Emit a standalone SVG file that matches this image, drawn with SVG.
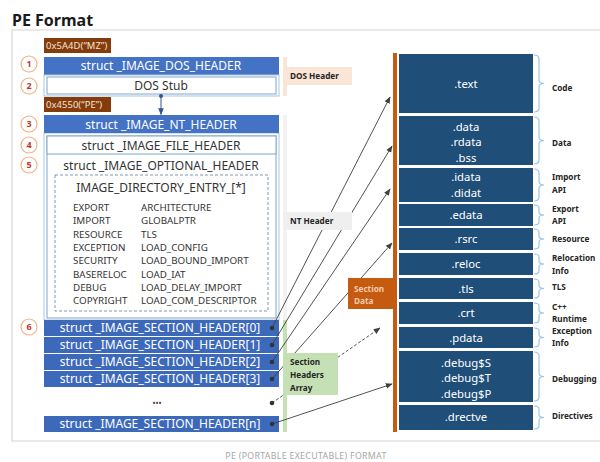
<svg xmlns="http://www.w3.org/2000/svg" width="600" height="462" viewBox="0 0 600 462">
<style>
text{font-family:"Noto Sans","Open Sans",sans-serif}
.title{font-size:16px;font-weight:bold;fill:#1a1a1a}
.frame{fill:none;stroke:#d4d4d4;stroke-width:1.2}
.brown{fill:#843c0c}
.btxt{font-size:9.4px;fill:#f6e3d4;letter-spacing:0.1px}
.blue{fill:#4472c4}
.sblue{fill:#3d69bb}
.wtxt{font-size:12px;fill:#ffffff;text-anchor:middle}
.dtxt{font-size:12px;fill:#333333;text-anchor:middle}
.outer{fill:#ffffff;stroke:#a9c3dd;stroke-width:1}
.inner{fill:#ffffff;stroke:#7fa6cc;stroke-width:1}
.dash{fill:none;stroke:#6f8fae;stroke-width:0.9;stroke-dasharray:3,2}
.dir{font-size:9.8px;fill:#333333}
.num circle{fill:#ffffff;stroke:#f4b183;stroke-width:1.2}
.num text{font-size:9px;fill:#c0392b;text-anchor:middle;font-weight:bold}
.lbl{font-size:8.2px;font-weight:bold;fill:#262626}
.lblo{font-size:8.2px;font-weight:bold;fill:#f8cbad}
.sec{fill:#1f4e79}
.stxt{font-size:11.3px;fill:#ffffff;text-anchor:middle}
.brace{fill:none;stroke:#9dc3e6;stroke-width:1.2}
.conn{fill:none;stroke:#404040;stroke-width:0.9}
.dot{fill:#333333}
</style>
<defs>
<marker id="ah" viewBox="0 0 10 10" refX="9" refY="5" markerWidth="7" markerHeight="7" orient="auto" markerUnits="userSpaceOnUse">
<path d="M0,1 L10,5 L0,9 Z" fill="#404040"/>
</marker>
<marker id="ahb" viewBox="0 0 10 10" refX="9" refY="5" markerWidth="7" markerHeight="7" orient="auto" markerUnits="userSpaceOnUse">
<path d="M0,1 L10,5 L0,9 Z" fill="#2f5597"/>
</marker>
</defs>

<text class="title" x="12" y="26">PE Format</text>
<path class="frame" d="M600,30 H12 V441 H600"/>
<text x="306" y="459" font-size="8.8" fill="#a6a6a6" text-anchor="middle" letter-spacing="0.3">PE (PORTABLE EXECUTABLE) FORMAT</text>

<rect x="283" y="57" width="4" height="39" fill="#fbe5d6"/>
<rect x="283" y="115" width="4" height="205" fill="#f2f2f2"/>
<rect x="283" y="320" width="4" height="112" fill="#c5e0b4"/>

<g id="dos-header">
<rect class="brown" x="44" y="38" width="67" height="15"/>
<text class="btxt" x="46" y="49">0x5A4D(“MZ”)</text>
<rect class="blue" x="44" y="57" width="235" height="18"/>
<text class="wtxt" x="161" y="70">struct _IMAGE_DOS_HEADER</text>
</g>
<g id="dos-stub">
<rect class="outer" x="44" y="75" width="235" height="21"/>
<rect class="inner" x="47" y="77" width="229" height="17"/>
<text class="dtxt" x="161" y="90">DOS Stub</text>
</g>

<g id="nt-header">
<rect class="brown" x="44" y="97" width="67" height="15"/>
<text class="btxt" x="46" y="108">0x4550(“PE”)</text>
<rect class="outer" x="44" y="133" width="235" height="187"/>
<rect class="inner" x="47" y="136" width="229" height="182"/>
<rect class="blue" x="44" y="115" width="235" height="18"/>
<text class="wtxt" x="161" y="128.5">struct _IMAGE_NT_HEADER</text>
</g>
<g id="file-header">
<rect class="inner" x="47" y="136" width="229" height="18"/>
<text class="dtxt" x="161" y="149.5">struct _IMAGE_FILE_HEADER</text>
</g>
<g id="optional-header">
<text class="dtxt" x="161" y="169.5">struct _IMAGE_OPTIONAL_HEADER</text>
<rect class="dash" x="55" y="175" width="213" height="136"/>
<text class="dtxt" x="161" y="191.5">IMAGE_DIRECTORY_ENTRY_[*]</text>
<text class="dir" x="73" y="211">EXPORT</text>
<text class="dir" x="73" y="224.3">IMPORT</text>
<text class="dir" x="73" y="237.6">RESOURCE</text>
<text class="dir" x="73" y="250.9">EXCEPTION</text>
<text class="dir" x="73" y="264.2">SECURITY</text>
<text class="dir" x="73" y="277.5">BASERELOC</text>
<text class="dir" x="73" y="290.8">DEBUG</text>
<text class="dir" x="73" y="304.1">COPYRIGHT</text>
<text class="dir" x="141" y="211">ARCHITECTURE</text>
<text class="dir" x="141" y="224.3">GLOBALPTR</text>
<text class="dir" x="141" y="237.6">TLS</text>
<text class="dir" x="141" y="250.9">LOAD_CONFIG</text>
<text class="dir" x="141" y="264.2">LOAD_BOUND_IMPORT</text>
<text class="dir" x="141" y="277.5">LOAD_IAT</text>
<text class="dir" x="141" y="290.8">LOAD_DELAY_IMPORT</text>
<text class="dir" x="141" y="304.1">LOAD_COM_DESCRIPTOR</text>
</g>

<g id="section-header-0"><rect class="sblue" x="44" y="320" width="235" height="16"/><text class="wtxt" x="160" y="332">struct _IMAGE_SECTION_HEADER[0]</text></g>
<g id="section-header-1"><rect class="sblue" x="44" y="337" width="235" height="16"/><text class="wtxt" x="160" y="349">struct _IMAGE_SECTION_HEADER[1]</text></g>
<g id="section-header-2"><rect class="sblue" x="44" y="354" width="235" height="16"/><text class="wtxt" x="160" y="366">struct _IMAGE_SECTION_HEADER[2]</text></g>
<g id="section-header-3"><rect class="sblue" x="44" y="371" width="235" height="16"/><text class="wtxt" x="160" y="383">struct _IMAGE_SECTION_HEADER[3]</text></g>
<g id="section-header-more"><text x="157" y="406" font-size="8" fill="#333333" text-anchor="middle">•••</text></g>
<g id="section-header-n"><rect class="sblue" x="44" y="416" width="235" height="16"/><text class="wtxt" x="160" y="428">struct _IMAGE_SECTION_HEADER[n]</text></g>

<g id="numbers" class="num">
<circle cx="29" cy="64" r="8"/><text x="29" y="67.2">1</text>
<circle cx="29" cy="86" r="8"/><text x="29" y="89.2">2</text>
<circle cx="29" cy="124" r="8"/><text x="29" y="127.2">3</text>
<circle cx="29" cy="145" r="8"/><text x="29" y="148.2">4</text>
<circle cx="29" cy="165" r="8"/><text x="29" y="168.2">5</text>
<circle cx="29" cy="327" r="8"/><text x="29" y="330.2">6</text>
</g>

<rect x="393" y="53" width="4" height="379" fill="#c55a11"/>
<g id="sec-text"><rect class="sec" x="399" y="54" width="134" height="59"/><text class="stxt" x="466" y="88">.text</text></g>
<g id="sec-data"><rect class="sec" x="399" y="116" width="134" height="49"/><text class="stxt" x="466" y="130.5">.data</text><text class="stxt" x="466" y="146">.rdata</text><text class="stxt" x="466" y="161.5">.bss</text></g>
<g id="sec-idata"><rect class="sec" x="399" y="168" width="134" height="34"/><text class="stxt" x="466" y="181">.idata</text><text class="stxt" x="466" y="197">.didat</text></g>
<g id="sec-edata"><rect class="sec" x="399" y="204" width="134" height="22"/><text class="stxt" x="466" y="219">.edata</text></g>
<g id="sec-rsrc"><rect class="sec" x="399" y="228" width="134" height="22"/><text class="stxt" x="466" y="243">.rsrc</text></g>
<g id="sec-reloc"><rect class="sec" x="399" y="253" width="134" height="22"/><text class="stxt" x="466" y="268">.reloc</text></g>
<g id="sec-tls"><rect class="sec" x="399" y="278" width="134" height="21"/><text class="stxt" x="466" y="293">.tls</text></g>
<g id="sec-crt"><rect class="sec" x="399" y="302" width="134" height="22"/><text class="stxt" x="466" y="317">.crt</text></g>
<g id="sec-pdata"><rect class="sec" x="399" y="327" width="134" height="21"/><text class="stxt" x="466" y="342">.pdata</text></g>
<g id="sec-debug"><rect class="sec" x="399" y="351" width="134" height="51"/><text class="stxt" x="466" y="366.5">.debug$S</text><text class="stxt" x="466" y="382">.debug$T</text><text class="stxt" x="466" y="397.5">.debug$P</text></g>
<g id="sec-drectve"><rect class="sec" x="399" y="405" width="134" height="25"/><text class="stxt" x="466" y="421">.drectve</text></g>

<g id="braces" class="brace">
<path d="M534,55 Q539,55 539,59 V80 Q539,83.5 544,83.5 Q539,83.5 539,87 V108 Q539,112 534,112"/>
<path d="M534,117 Q539,117 539,121 V137 Q539,140.5 544,140.5 Q539,140.5 539,144 V160 Q539,164 534,164"/>
<path d="M534,169 Q539,169 539,173 V181.5 Q539,185 544,185 Q539,185 539,188.5 V197 Q539,201 534,201"/>
<path d="M534,205 Q539,205 539,208 V212 Q539,215 544,215 Q539,215 539,218 V222 Q539,225 534,225"/>
<path d="M534,229 Q539,229 539,232 V236 Q539,239 544,239 Q539,239 539,242 V246 Q539,249 534,249"/>
<path d="M534,254 Q539,254 539,257 V261 Q539,264 544,264 Q539,264 539,267 V271 Q539,274 534,274"/>
<path d="M534,279 Q539,279 539,282 V285.5 Q539,288.5 544,288.5 Q539,288.5 539,291.5 V295 Q539,298 534,298"/>
<path d="M534,303 Q539,303 539,306 V310 Q539,313 544,313 Q539,313 539,316 V320 Q539,323 534,323"/>
<path d="M534,328 Q539,328 539,331 V334.5 Q539,337.5 544,337.5 Q539,337.5 539,340.5 V344 Q539,347 534,347"/>
<path d="M534,352 Q539,352 539,356 V373 Q539,376.5 544,376.5 Q539,376.5 539,380 V397 Q539,401 534,401"/>
<path d="M534,406 Q539,406 539,409 V414.5 Q539,417.5 544,417.5 Q539,417.5 539,420.5 V426 Q539,429 534,429"/>
</g>

<g id="right-labels" class="lbl">
<text x="552" y="91">Code</text>
<text x="552" y="146">Data</text>
<text x="552" y="180">Import</text><text x="552" y="193">API</text>
<text x="552" y="212">Export</text><text x="552" y="224">API</text>
<text x="552" y="242">Resource</text>
<text x="552" y="261">Relocation</text><text x="552" y="274">Info</text>
<text x="552" y="290">TLS</text>
<text x="552" y="310">C++</text><text x="552" y="322">Runtime</text>
<text x="552" y="334">Exception</text><text x="552" y="346">Info</text>
<text x="552" y="382">Debugging</text>
<text x="552" y="419">Directives</text>
</g>

<g id="connectors">
<line x1="161" y1="96" x2="161" y2="114.5" stroke="#2f5597" stroke-width="1" marker-end="url(#ahb)"/>
<circle cx="161" cy="96" r="2" fill="#2f5597"/>
<line class="conn" x1="272" y1="328" x2="390" y2="97" marker-end="url(#ah)"/>
<line class="conn" x1="272" y1="345" x2="392" y2="146" marker-end="url(#ah)"/>
<line class="conn" x1="272" y1="362" x2="390" y2="189" marker-end="url(#ah)"/>
<line class="conn" x1="272" y1="379" x2="392" y2="243" marker-end="url(#ah)"/>
<line class="conn" x1="272" y1="403" x2="380" y2="328" stroke-dasharray="3,2" marker-end="url(#ah)"/>
<line class="conn" x1="272" y1="424" x2="392" y2="384" marker-end="url(#ah)"/>
<circle class="dot" cx="272" cy="328" r="2.3"/>
<circle class="dot" cx="272" cy="345" r="2.3"/>
<circle class="dot" cx="272" cy="362" r="2.3"/>
<circle class="dot" cx="272" cy="379" r="2.3"/>
<circle class="dot" cx="272" cy="403" r="2.3"/>
<circle class="dot" cx="272" cy="424" r="2.3"/>
</g>

<g id="label-dos-header"><rect x="283" y="67" width="69" height="18" fill="#fbe5d6"/><text class="lbl" x="290" y="79">DOS Header</text></g>
<g id="label-nt-header"><rect x="283" y="212" width="69" height="18" fill="#efefef"/><text class="lbl" x="290" y="224">NT Header</text></g>
<g id="label-section-headers"><rect x="283" y="353" width="55" height="42" fill="#c5e0b4"/><text class="lbl" x="290" y="365">Section</text><text class="lbl" x="290" y="378">Headers</text><text class="lbl" x="290" y="391">Array</text></g>
<g id="label-section-data"><rect x="348" y="278" width="46" height="31" fill="#c55a11"/><text class="lblo" x="354" y="292">Section</text><text class="lblo" x="354" y="304">Data</text></g>
</svg>
